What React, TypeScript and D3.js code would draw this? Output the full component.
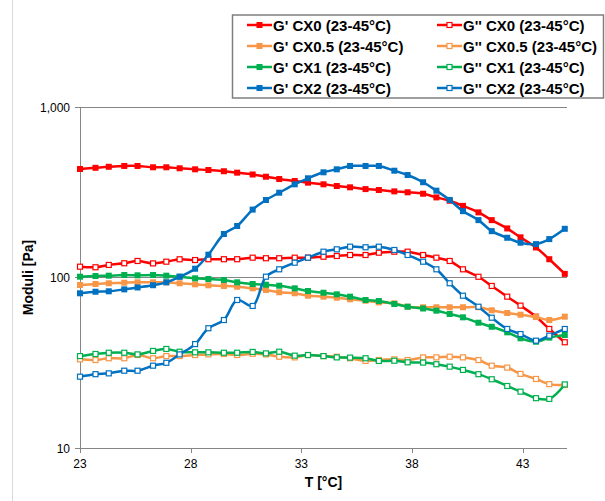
import React from "react";
import * as d3 from "d3";

const temperatures = [23.0, 23.7, 24.3, 25.0, 25.6, 26.3, 26.9, 27.5, 28.2, 28.8, 29.5, 30.1, 30.8, 31.4, 32.0, 32.7, 33.3, 34.0, 34.6, 35.2, 35.9, 36.5, 37.2, 37.8, 38.5, 39.1, 39.7, 40.3, 41.0, 41.6, 42.3, 42.9, 43.6, 44.2, 44.9];

const gpCX0 = [433, 440, 446, 451, 451, 443, 443, 437, 431, 427, 420, 412, 402, 390, 378, 368, 360, 352, 344, 338, 330, 326, 320, 316, 310, 295, 282, 263, 241, 217, 194, 172, 150, 128, 105];
const gppCX0 = [115.7, 114.8, 118.5, 121.2, 125, 121, 123.8, 127.9, 126.6, 128, 128, 128, 130.7, 129.7, 129.7, 130.7, 130.7, 132.4, 133.7, 135.5, 135.5, 139.8, 141.7, 141.7, 135.5, 130.7, 125, 111.7, 101, 89.2, 77.2, 68.4, 58.9, 49.9, 41.7];
const gpCX05 = [90.4, 91.6, 92.5, 93.2, 93.7, 93.7, 93.7, 92.5, 91.2, 90.0, 89.2, 88.3, 86.4, 84.5, 81.9, 80.8, 78.2, 77.2, 76.1, 74.5, 73.1, 71.5, 70.6, 67.4, 66.9, 66.9, 66.9, 66.9, 66.9, 64.2, 61.9, 60.5, 58.6, 56.3, 58.9];
const gppCX05 = [33.1, 32.8, 33.6, 33.6, 35.1, 33.6, 34.6, 34.6, 35.1, 35.4, 35.6, 35.1, 35.7, 35.4, 34.3, 34.0, 35.1, 34.6, 34.3, 33.6, 32.4, 32.8, 33.1, 32.8, 34.0, 34.0, 34.3, 34.0, 32.8, 30.4, 29.6, 27.2, 25.4, 23.7, 23.4];
const gpCX1 = [101.1, 102.0, 102.5, 103.4, 103.0, 103.4, 102.5, 101.1, 98.9, 98.0, 96.7, 93.7, 91.6, 90.7, 89.5, 86.4, 83.3, 81.4, 79.7, 77.2, 73.8, 72.8, 69.9, 67.4, 65.8, 63.9, 61.1, 58.4, 54.3, 51.4, 47.7, 44.0, 42.0, 44.4, 46.0];
const gppCX1 = [34.6, 35.6, 36.2, 36.2, 35.4, 37.1, 38.1, 36.7, 36.4, 36.4, 36.2, 36.2, 36.6, 35.9, 36.7, 34.8, 35.1, 34.6, 34.0, 33.9, 33.6, 32.4, 32.5, 31.8, 31.7, 31.0, 30.0, 28.7, 27.1, 25.3, 23.1, 21.4, 19.6, 19.4, 23.6];
const gpCX2 = [80.8, 82.5, 83.0, 85.2, 87.4, 90.1, 93.7, 101.1, 112.6, 136.1, 179.9, 200.5, 250.2, 284.8, 314.3, 352, 381.8, 414, 431, 451, 451, 451, 423, 399, 362, 323, 285, 245, 217, 187, 171, 160, 157, 168, 193];
const gppCX2 = [26.2, 27.1, 27.4, 28.4, 28.4, 30.4, 31.6, 35.4, 40.7, 50.4, 56.3, 73.8, 68.1, 101.1, 111.7, 122.1, 130.7, 141.7, 146.3, 151.6, 150.4, 151.6, 145.0, 135.5, 123.8, 111.7, 92.5, 78.2, 67.4, 58.1, 49.9, 46.6, 42.6, 45.6, 49.9];

const seriesNames = ["G' CX0 (23-45°C)", "G'' CX0 (23-45°C)", "G' CX0.5 (23-45°C)", "G'' CX0.5 (23-45°C)", "G' CX1 (23-45°C)", "G'' CX1 (23-45°C)", "G' CX2 (23-45°C)", "G'' CX2 (23-45°C)"];
const seriesValues = [gpCX0, gppCX0, gpCX05, gppCX05, gpCX1, gppCX1, gpCX2, gppCX2];
const seriesColors = ["#FF0000", "#FF0000", "#F79646", "#F79646", "#00B050", "#00B050", "#0070C0", "#0070C0"];
const seriesFilled = [true, false, true, false, true, false, true, false];

const xTicks = [23, 28, 33, 38, 43];
const yTicks = [10, 100, 1000];

const W = 605, H = 501;
const left = 80, right = 567, top = 107, bottom = 448;

export default function App() {
  const x = d3.scaleLinear().domain([23, 45]).range([left, right]);
  const y = d3.scaleLog().domain([10, 1000]).range([bottom, top]);
  const fmt = d3.format(",");
  const line = d3.line<[number, number]>().x(d => x(d[0])).y(d => y(d[1])).curve(d3.curveCatmullRom.alpha(0.5));
  const font = "'Liberation Sans', Arial, sans-serif";
  const ms = 6;

  return (
    <svg width={W} height={H} style={{ position: "absolute", left: 0, top: 0, background: "#fff" }} fontFamily={font}>
      <rect x={0} y={0} width={W} height={H} fill="#fff" />
      <line x1={12.5} x2={12.5} y1={0} y2={H} stroke="#D9D9D9" />
      {yTicks.filter(t => t !== 10).map(t => (
        <line key={t} x1={left} x2={right} y1={Math.round(y(t)) + 0.5} y2={Math.round(y(t)) + 0.5} stroke="#868686" strokeWidth={1} />
      ))}
      <line x1={left + 0.5} x2={left + 0.5} y1={top} y2={bottom} stroke="#868686" />
      <line x1={left} x2={right} y1={bottom + 0.5} y2={bottom + 0.5} stroke="#868686" />
      {yTicks.map(t => (
        <g key={t}>
          <line x1={left - 5} x2={left} y1={Math.round(y(t)) + 0.5} y2={Math.round(y(t)) + 0.5} stroke="#868686" />
          <text x={left - 10} y={y(t) + 4.5} textAnchor="end" fontSize={12} fill="#000">{fmt(t)}</text>
        </g>
      ))}
      {xTicks.map(t => (
        <g key={t}>
          <line x1={Math.round(x(t)) + 0.5} x2={Math.round(x(t)) + 0.5} y1={bottom} y2={bottom + 5} stroke="#868686" />
          <text x={x(t)} y={bottom + 20} textAnchor="middle" fontSize={12} fill="#000">{t}</text>
        </g>
      ))}
      <text x={(left + right) / 2} y={487} textAnchor="middle" fontSize={14} fontWeight="bold">T [°C]</text>
      <text transform={`translate(33,${(top + bottom) / 2}) rotate(-90)`} textAnchor="middle" fontSize={14} fontWeight="bold">Moduli [Pa]</text>
      {seriesValues.map((vals, i) => {
        const pts: [number, number][] = temperatures.map((t, j) => [t, vals[j]]);
        return (
          <g key={i}>
            <path d={line(pts) || ""} fill="none" stroke={seriesColors[i]} strokeWidth={2.5} />
            {pts.map((p, j) => (
              seriesFilled[i] ? (
                <rect key={j} x={x(p[0]) - ms / 2} y={y(p[1]) - ms / 2} width={ms} height={ms} fill={seriesColors[i]} />
              ) : (
                <rect key={j} x={x(p[0]) - ms / 2 + 0.5} y={y(p[1]) - ms / 2 + 0.5} width={ms - 1} height={ms - 1} fill="#fff" stroke={seriesColors[i]} strokeWidth={1.2} />
              )
            ))}
          </g>
        );
      })}
      <rect x={232.5} y={15} width={371} height={83} fill="#fff" stroke="#7F7F7F" strokeWidth={1.5} />
      {seriesNames.map((name, i) => {
        const col = i % 2, row = Math.floor(i / 2);
        const lx = col === 0 ? 247 : 437;
        const ly = 25 + row * 21;
        return (
          <g key={name}>
            <line x1={lx} x2={lx + 25} y1={ly} y2={ly} stroke={seriesColors[i]} strokeWidth={2.5} />
            {seriesFilled[i] ? (
              <rect x={lx + 12.5 - 3} y={ly - 3} width={6} height={6} fill={seriesColors[i]} />
            ) : (
              <rect x={lx + 12.5 - 2.5} y={ly - 2.5} width={5} height={5} fill="#fff" stroke={seriesColors[i]} strokeWidth={1.2} />
            )}
            <text x={lx + 26} y={ly + 5.5} fontSize={15} fontWeight="bold" fill="#000">{name}</text>
          </g>
        );
      })}
    </svg>
  );
}
